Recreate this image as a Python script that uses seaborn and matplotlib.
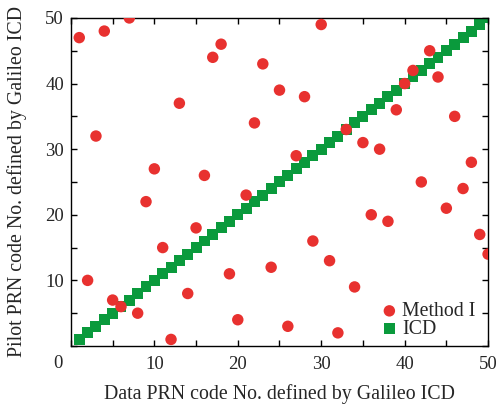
import matplotlib
matplotlib.use("Agg")
import matplotlib.pyplot as plt
import seaborn as sns
import pandas as pd
from matplotlib.ticker import MultipleLocator

data_prn = list(range(1, 51))
method1_pilot = [47, 10, 32, 48, 7, 6, 50, 5, 22, 27,
                 15, 1, 37, 8, 18, 26, 44, 46, 11, 4,
                 23, 34, 43, 12, 39, 3, 29, 38, 16, 49,
                 13, 2, 33, 9, 31, 20, 30, 19, 36, 40,
                 42, 25, 45, 41, 21, 35, 24, 28, 17, 14]
icd_pilot = list(range(1, 51))

x_ticks = [10, 20, 30, 40, 50]
y_ticks = [10, 20, 30, 40, 50]

sns.set_theme(style="ticks")
plt.rcParams['font.family'] = ['Liberation Serif', 'DejaVu Serif']

df_m = pd.DataFrame({"x": data_prn, "y": method1_pilot})
df_i = pd.DataFrame({"x": data_prn, "y": icd_pilot})

fig = plt.figure(figsize=(4.96, 4.08), dpi=100)
ax = fig.add_axes([0.143, 0.152, 0.841, 0.804])

red = "#E8312F"
green = "#0A9A3C"

sns.scatterplot(data=df_i, x="x", y="y", ax=ax, marker="s", s=62, color=green,
                edgecolor="none", linewidth=0, label="ICD", zorder=2)
sns.scatterplot(data=df_m, x="x", y="y", ax=ax, marker="o", s=68, color=red,
                edgecolor="none", linewidth=0, label="Method I", zorder=3)

ax.set_xlim(0, 50)
ax.set_ylim(0, 50)
ax.set_xticks(x_ticks)
ax.set_yticks(y_ticks)
ax.xaxis.set_minor_locator(MultipleLocator(5))
ax.yaxis.set_minor_locator(MultipleLocator(5))
ax.tick_params(which="both", direction="in", top=True, right=True,
               length=4, width=1, color="black", labelsize=13.5)
ax.tick_params(axis="x", pad=7)
ax.tick_params(axis="y", pad=5)
for sp in ax.spines.values():
    sp.set_linewidth(1)
    sp.set_color("black")

ax.text(-1.6, -2.7, "0", ha="center", va="center", fontsize=13.5, clip_on=False)

ax.set_xlabel("Data PRN code No. defined by Galileo ICD", fontsize=14.3, labelpad=8)
ax.set_ylabel("Pilot PRN code No. defined by Galileo ICD", fontsize=14.3, labelpad=13)

handles, labels = ax.get_legend_handles_labels()
order = [labels.index("Method I"), labels.index("ICD")]
ax.legend([handles[i] for i in order], [labels[i] for i in order],
          loc="lower right", frameon=False, fontsize=14.3, handletextpad=0.1,
          borderaxespad=0.0, labelspacing=-0.05, handlelength=1.1,
          borderpad=0.1, bbox_to_anchor=(0.975, 0.015))

fig.savefig("out.png", dpi=100)
